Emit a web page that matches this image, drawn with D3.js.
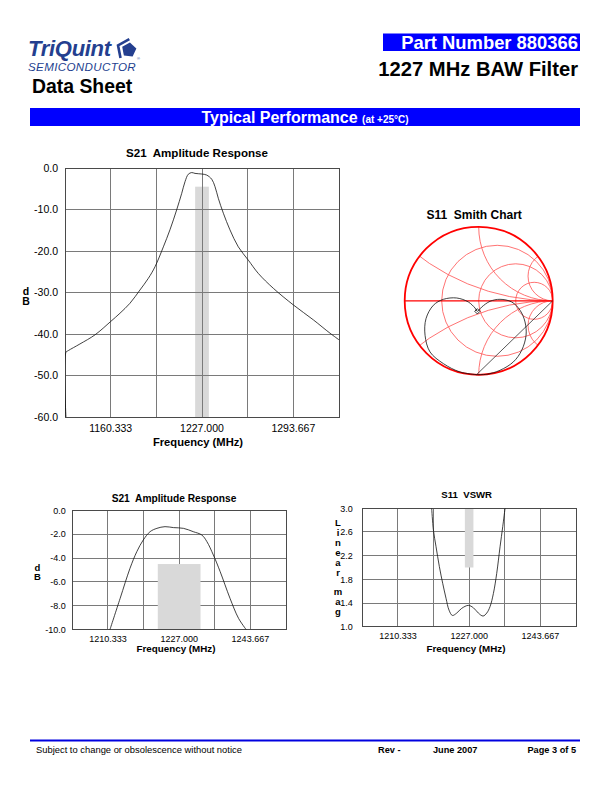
<!DOCTYPE html>
<html><head><meta charset="utf-8">
<script src="https://cdn.jsdelivr.net/npm/d3@7"></script>
<style>
html,body{margin:0;padding:0;background:#fff;}
svg{display:block;font-family:"Liberation Sans",Arial,Helvetica,sans-serif;}
.vert{writing-mode:vertical-rl;text-orientation:upright;}
</style></head><body>
<svg id="page" width="612" height="792"></svg>
<script>
// ---------- DATA ----------
// S21 wide span (1127 - 1327 MHz)
const wideFreq = [1127.7,1127.7,1129.4,1137.9,1148.9,1160.3,1167.1,1174.4,1181.7,1187.8,1192.7,1198.8,1203.6,1208.5,1212.2,1214.6,1217.0,1219.5,1221.9,1226.8,1230.4,1234.1,1236.5,1238.9,1242.6,1247.4,1253.5,1260.8,1268.1,1279.1,1293.7,1308.3,1320.4,1327.0];
const wideDb   = [-60,-44.4,-44.0,-42.4,-40.2,-37.0,-35.0,-32.6,-29.4,-26.6,-23.8,-19.0,-14.9,-10.1,-6.1,-3.3,-1.5,-1.1,-1.3,-1.45,-1.7,-2.7,-4.5,-7.3,-10.9,-14.9,-19.0,-22.2,-25.4,-29.0,-33.0,-36.6,-39.8,-41.4];
const wideXTicks = [1160.333, 1227.000, 1293.667];
const wideYTicks = [0, -10, -20, -30, -40, -50, -60];

// S21 narrow span (1202 - 1252 MHz)
const narrowFreq = [1210.8,1213.2,1215.5,1217.1,1218.6,1220.2,1221.8,1223.7,1225.7,1228.0,1230.3,1232.3,1233.5,1235.0,1236.6,1238.9,1240.9,1242.7];
const narrowDb   = [-10.0,-7.37,-4.86,-3.46,-2.49,-1.79,-1.51,-1.37,-1.45,-1.51,-1.79,-2.07,-2.63,-3.74,-5.14,-7.37,-9.05,-10.0];
const narrowXTicks = [1210.333, 1227.000, 1243.667];
const narrowYTicks = [0, -2, -4, -6, -8, -10];

// S11 VSWR
const vswrFreq = [1218.24,1218.63,1219.25,1220.03,1220.81,1221.59,1222.29,1223.07,1224.09,1225.26,1226.82,1227.99,1229.16,1230.25,1231.11,1231.89,1232.67,1233.45,1234.23,1234.86,1235.40];
const vswrVal  = [3.0,2.635,2.353,2.015,1.733,1.48,1.28,1.19,1.23,1.31,1.36,1.32,1.23,1.18,1.23,1.34,1.56,1.90,2.35,2.69,3.0];
const vswrYTicks = [3.0, 2.6, 2.2, 1.8, 1.4, 1.0];

// spec masks
const passbandFreq = [1222, 1232];
const passbandLoss = -4.5;
const vswrBandFreq = [1226, 1228];
const vswrBandRange = [2.0, 3.0];

// S11 Smith chart trace (reflection coefficient, real / imag)
const smithRe = [-0.027,-0.252,-0.477,-0.658,-0.725,-0.712,-0.613,-0.477,-0.297,-0.14,-0.05,-0.018,0.041,0.153,0.288,0.446,0.559,0.626,0.64,0.581,0.468,0.288,0.108,-0.027];
const smithIm = [-0.998,-0.962,-0.849,-0.691,-0.466,-0.241,-0.061,0.02,0.038,-0.016,-0.097,-0.142,-0.084,-0.007,0.02,-0.016,-0.128,-0.286,-0.466,-0.669,-0.826,-0.939,-0.993,-0.998];
const smithLineRe = [1.0, -0.03];
const smithLineIm = [0.0, -0.999];
const smithMarker = [-0.018, -0.142];
const smithR = [1/3, 1, 3];
const smithX = [1/3, 1, 3];

// ---------- DRAW ----------
const svg = d3.select('#page');
svg.append('rect').attr('width',612).attr('height',792).attr('fill','#fff');

// Header: logo
const logo = svg.append('g');
logo.append('text').attr('x',28).attr('y',56).attr('font-size',22).attr('font-weight','bold')
  .attr('font-style','italic').attr('fill','#243f8f').attr('letter-spacing',-0.3).text('TriQuint');
const pent = d3.range(5).map(i => {
  const a = -Math.PI/2 + i*2*Math.PI/5 + 0.12;
  return [129 + 7.5*Math.cos(a), 50 + 7.5*Math.sin(a)];
});
logo.append('path').attr('d', 'M' + pent.map(p=>p.join(',')).join('L') + 'Z').attr('fill','#243f8f');
const pent2 = d3.range(5).map(i => {
  const a = -Math.PI/2 + i*2*Math.PI/5 + 0.12;
  return [128 + 11*Math.cos(a), 50 + 11*Math.sin(a)];
});
logo.append('path').attr('d', 'M' + [pent2[0],pent2[4],pent2[3]].map(p=>p.join(',')).join('L'))
  .attr('fill','none').attr('stroke','#243f8f').attr('stroke-width',2.6);
logo.append('text').attr('x',137).attr('y',60).attr('font-size',4).attr('fill','#243f8f').text('®');
logo.append('text').attr('x',28).attr('y',71.3).attr('font-size',11.6).attr('font-style','italic')
  .attr('fill','#243f8f').attr('letter-spacing',0.35).text('SEMICONDUCTOR');
svg.append('text').attr('x',32).attr('y',93).attr('font-size',19.4).attr('font-weight','bold')
  .attr('fill','#000').text('Data Sheet');

// Header right
svg.append('rect').attr('x',383).attr('y',33.5).attr('width',197).attr('height',17.5).attr('fill','#0000ff');
svg.append('text').attr('x',578).attr('y',49).attr('text-anchor','end').attr('font-size',18.4)
  .attr('font-weight','bold').attr('fill','#fff').text('Part Number 880366');
svg.append('text').attr('x',578).attr('y',75.5).attr('text-anchor','end').attr('font-size',20.2)
  .attr('font-weight','bold').attr('fill','#000').text('1227 MHz BAW Filter');

// Blue section bar
svg.append('rect').attr('x',30).attr('y',108).attr('width',550).attr('height',18).attr('fill','#0000ff');
const bar = svg.append('text').attr('x',305).attr('y',123).attr('text-anchor','middle').attr('fill','#fff').attr('font-weight','bold');
bar.append('tspan').attr('font-size',16).text('Typical Performance ');
bar.append('tspan').attr('font-size',10).text('(at +25°C)');

// Footer
svg.append('line').attr('x1',30).attr('x2',580).attr('y1',740.5).attr('y2',740.5).attr('stroke','#0000e0').attr('stroke-width',2.2);
svg.append('text').attr('x',36).attr('y',753).attr('font-size',9.4).text('Subject to change or obsolescence without notice');
svg.append('text').attr('x',378).attr('y',753).attr('font-size',9.2).attr('font-weight','bold').text('Rev -');
svg.append('text').attr('x',433).attr('y',753).attr('font-size',9.2).attr('font-weight','bold').text('June 2007');
svg.append('text').attr('x',576).attr('y',753).attr('font-size',9.2).attr('font-weight','bold').attr('text-anchor','end').text('Page 3 of 5');

// ---------- generic chart ----------
let clipId = 0;
function chart(o) {
  const g = svg.append('g');
  const x = d3.scaleLinear().domain(o.xDomain).range([o.left, o.left + o.width]);
  const y = d3.scaleLinear().domain(o.yDomain).range([o.top + o.height, o.top]);
  const id = 'clip' + (clipId++);
  svg.append('clipPath').attr('id', id).append('rect')
    .attr('x', o.left).attr('y', o.top).attr('width', o.width).attr('height', o.height);

  const drawBand = () => g.append('rect')
    .attr('x', x(o.band.x[0])).attr('width', x(o.band.x[1]) - x(o.band.x[0]))
    .attr('y', y(o.band.y[1])).attr('height', y(o.band.y[0]) - y(o.band.y[1]))
    .attr('fill', '#d9d9d9');
  if (o.bandBelow) drawBand();

  const grid = g.append('g').attr('stroke', '#7a7a7a').attr('stroke-width', 1).attr('shape-rendering','crispEdges');
  grid.selectAll('.gx').data(o.xGrid).join('line')
    .attr('x1', d => x(d)).attr('x2', d => x(d)).attr('y1', o.top).attr('y2', o.top + o.height);
  grid.selectAll('.gy').data(o.yTicks).join('line')
    .attr('y1', d => y(d)).attr('y2', d => y(d)).attr('x1', o.left).attr('x2', o.left + o.width);

  if (!o.bandBelow) drawBand();

  g.append('rect').attr('x', o.left).attr('y', o.top).attr('width', o.width).attr('height', o.height)
    .attr('fill', 'none').attr('stroke', '#4a4a4a').attr('stroke-width', 1).attr('shape-rendering','crispEdges');

  const line = d3.line().x(d => x(d[0])).y(d => y(d[1])).curve(d3.curveCatmullRom.alpha(0.5));
  g.append('path').attr('clip-path', `url(#${id})`)
    .attr('d', line(d3.zip(o.xs, o.ys)))
    .attr('fill', 'none').attr('stroke', '#111').attr('stroke-width', 0.8);

  g.selectAll('.yl').data(o.yTicks).join('text')
    .attr('x', o.left - o.yLabGap).attr('y', d => y(d)).attr('dy', '0.36em')
    .attr('text-anchor', 'end').attr('font-size', o.tickSize).text(d => d.toFixed(1));
  g.selectAll('.xl').data(o.xTicks).join('text')
    .attr('x', d => x(d)).attr('y', o.xLabY).attr('text-anchor', 'middle')
    .attr('font-size', o.tickSize).text(d => d.toFixed(3));
  g.append('text').attr('x', o.xTitleX).attr('y', o.xTitleY).attr('text-anchor', 'middle')
    .attr('font-size', o.xTitleSize).attr('font-weight', 'bold').text('Frequency (MHz)');
  g.append('text').attr('x', o.titleX).attr('y', o.titleY).attr('text-anchor', 'middle')
    .attr('font-size', o.titleSize).attr('font-weight', 'bold')
    .style('white-space','pre').text(o.title);
  // stacked (upright vertical) y-axis title
  g.append('text').attr('class', 'vert').attr('x', o.yTitleX).attr('y', o.yTitleY)
    .attr('font-size', o.yTitleSize).attr('font-weight', 'bold')
    .attr('letter-spacing', o.yTitleSpacing).style('white-space', 'pre').text(o.yTitle);
  return {x, y};
}

// Chart 1: wide S21
chart({
  left: 65, top: 168, width: 274, height: 249,
  xDomain: [1127, 1327], yDomain: [-60, 0],
  xGrid: d3.range(1, 6).map(i => 1127 + i * 200 / 6),
  xTicks: wideXTicks, yTicks: wideYTicks,
  xs: wideFreq, ys: wideDb,
  band: {x: passbandFreq, y: [-60, passbandLoss]}, bandBelow: true,
  tickSize: 10.5, yLabGap: 7, xLabY: 431.5,
  xTitleX: 198, xTitleY: 445.5, xTitleSize: 11.2,
  title: 'S21  Amplitude Response', titleX: 197, titleY: 156.5, titleSize: 11.6,
  yTitle: 'dB', yTitleX: 26, yTitleY: 285, yTitleSize: 10.5, yTitleSpacing: -2.5
});

// Chart 2: narrow S21
chart({
  left: 72.3, top: 510.3, width: 213.7, height: 119.4,
  xDomain: [1202, 1252], yDomain: [-10, 0],
  xGrid: d3.range(1, 6).map(i => 1202 + i * 50 / 6),
  xTicks: narrowXTicks, yTicks: narrowYTicks,
  xs: narrowFreq, ys: narrowDb,
  band: {x: passbandFreq, y: [-10, passbandLoss]}, bandBelow: false,
  tickSize: 9, yLabGap: 6.5, xLabY: 642,
  xTitleX: 176, xTitleY: 652, xTitleSize: 9.8,
  title: 'S21  Amplitude Response', titleX: 174, titleY: 502, titleSize: 10.2,
  yTitle: 'dB', yTitleX: 37.5, yTitleY: 561.5, yTitleSize: 9.5, yTitleSpacing: -1.5
});

// Chart 3: VSWR
chart({
  left: 362.3, top: 508.3, width: 213.7, height: 118.4,
  xDomain: [1202, 1252], yDomain: [1.0, 3.0],
  xGrid: d3.range(1, 6).map(i => 1202 + i * 50 / 6),
  xTicks: narrowXTicks, yTicks: vswrYTicks,
  xs: vswrFreq, ys: vswrVal,
  band: {x: vswrBandFreq, y: vswrBandRange}, bandBelow: false,
  tickSize: 9, yLabGap: 9.5, xLabY: 639,
  xTitleX: 466, xTitleY: 652, xTitleSize: 9.8,
  title: 'S11  VSWR', titleX: 466.7, titleY: 498.3, titleSize: 9.6,
  yTitle: 'Linear mag', yTitleX: 338, yTitleY: 517, yTitleSize: 9.5, yTitleSpacing: -1.1
});

// ---------- Smith chart ----------
const cx = 478.7, cy = 300.8, R = 74;
const sx = d3.scaleLinear().domain([-1, 1]).range([cx - R, cx + R]);
const sy = d3.scaleLinear().domain([-1, 1]).range([cy + R, cy - R]);
const k = R;
svg.append('clipPath').attr('id', 'smithClip').append('circle').attr('cx', cx).attr('cy', cy).attr('r', R);
const sm = svg.append('g');
const sgrid = sm.append('g').attr('clip-path', 'url(#smithClip)').attr('fill', 'none')
  .attr('stroke', '#ff5a5a').attr('stroke-width', 0.85);
sgrid.selectAll('.rc').data(smithR).join('circle')
  .attr('cx', r => sx(r / (1 + r))).attr('cy', sy(0)).attr('r', r => k / (1 + r));
const xArcs = smithX.flatMap(v => [v, -v]);
sgrid.selectAll('.xc').data(xArcs).join('circle')
  .attr('cx', sx(1)).attr('cy', v => sy(1 / v)).attr('r', v => k / Math.abs(v));
sm.append('line').attr('x1', sx(-1)).attr('x2', sx(1)).attr('y1', sy(0)).attr('y2', sy(0))
  .attr('stroke', '#ff0000').attr('stroke-width', 1.3);
sm.append('circle').attr('cx', cx).attr('cy', cy).attr('r', R)
  .attr('fill', 'none').attr('stroke', '#ff0000').attr('stroke-width', 1.8);

const sline = d3.line().x(d => sx(d[0])).y(d => sy(d[1]));
sm.append('path').attr('d', sline(d3.zip(smithLineRe, smithLineIm)))
  .attr('fill', 'none').attr('stroke', '#111').attr('stroke-width', 0.7);
sm.append('path').attr('d', sline.curve(d3.curveCatmullRom.alpha(0.5))(d3.zip(smithRe, smithIm)))
  .attr('fill', 'none').attr('stroke', '#111').attr('stroke-width', 0.8);
sm.append('path').attr('d', d3.symbol(d3.symbolSquare, 14)())
  .attr('transform', `translate(${sx(smithMarker[0])},${sy(smithMarker[1])}) rotate(45)`)
  .attr('fill', 'none').attr('stroke', '#111').attr('stroke-width', 0.8);
sm.append('text').attr('x', 474.2).attr('y', 219.3).attr('text-anchor', 'middle')
  .attr('font-size', 12).attr('font-weight', 'bold').style('white-space', 'pre').text('S11  Smith Chart');
</script>
</body></html>
